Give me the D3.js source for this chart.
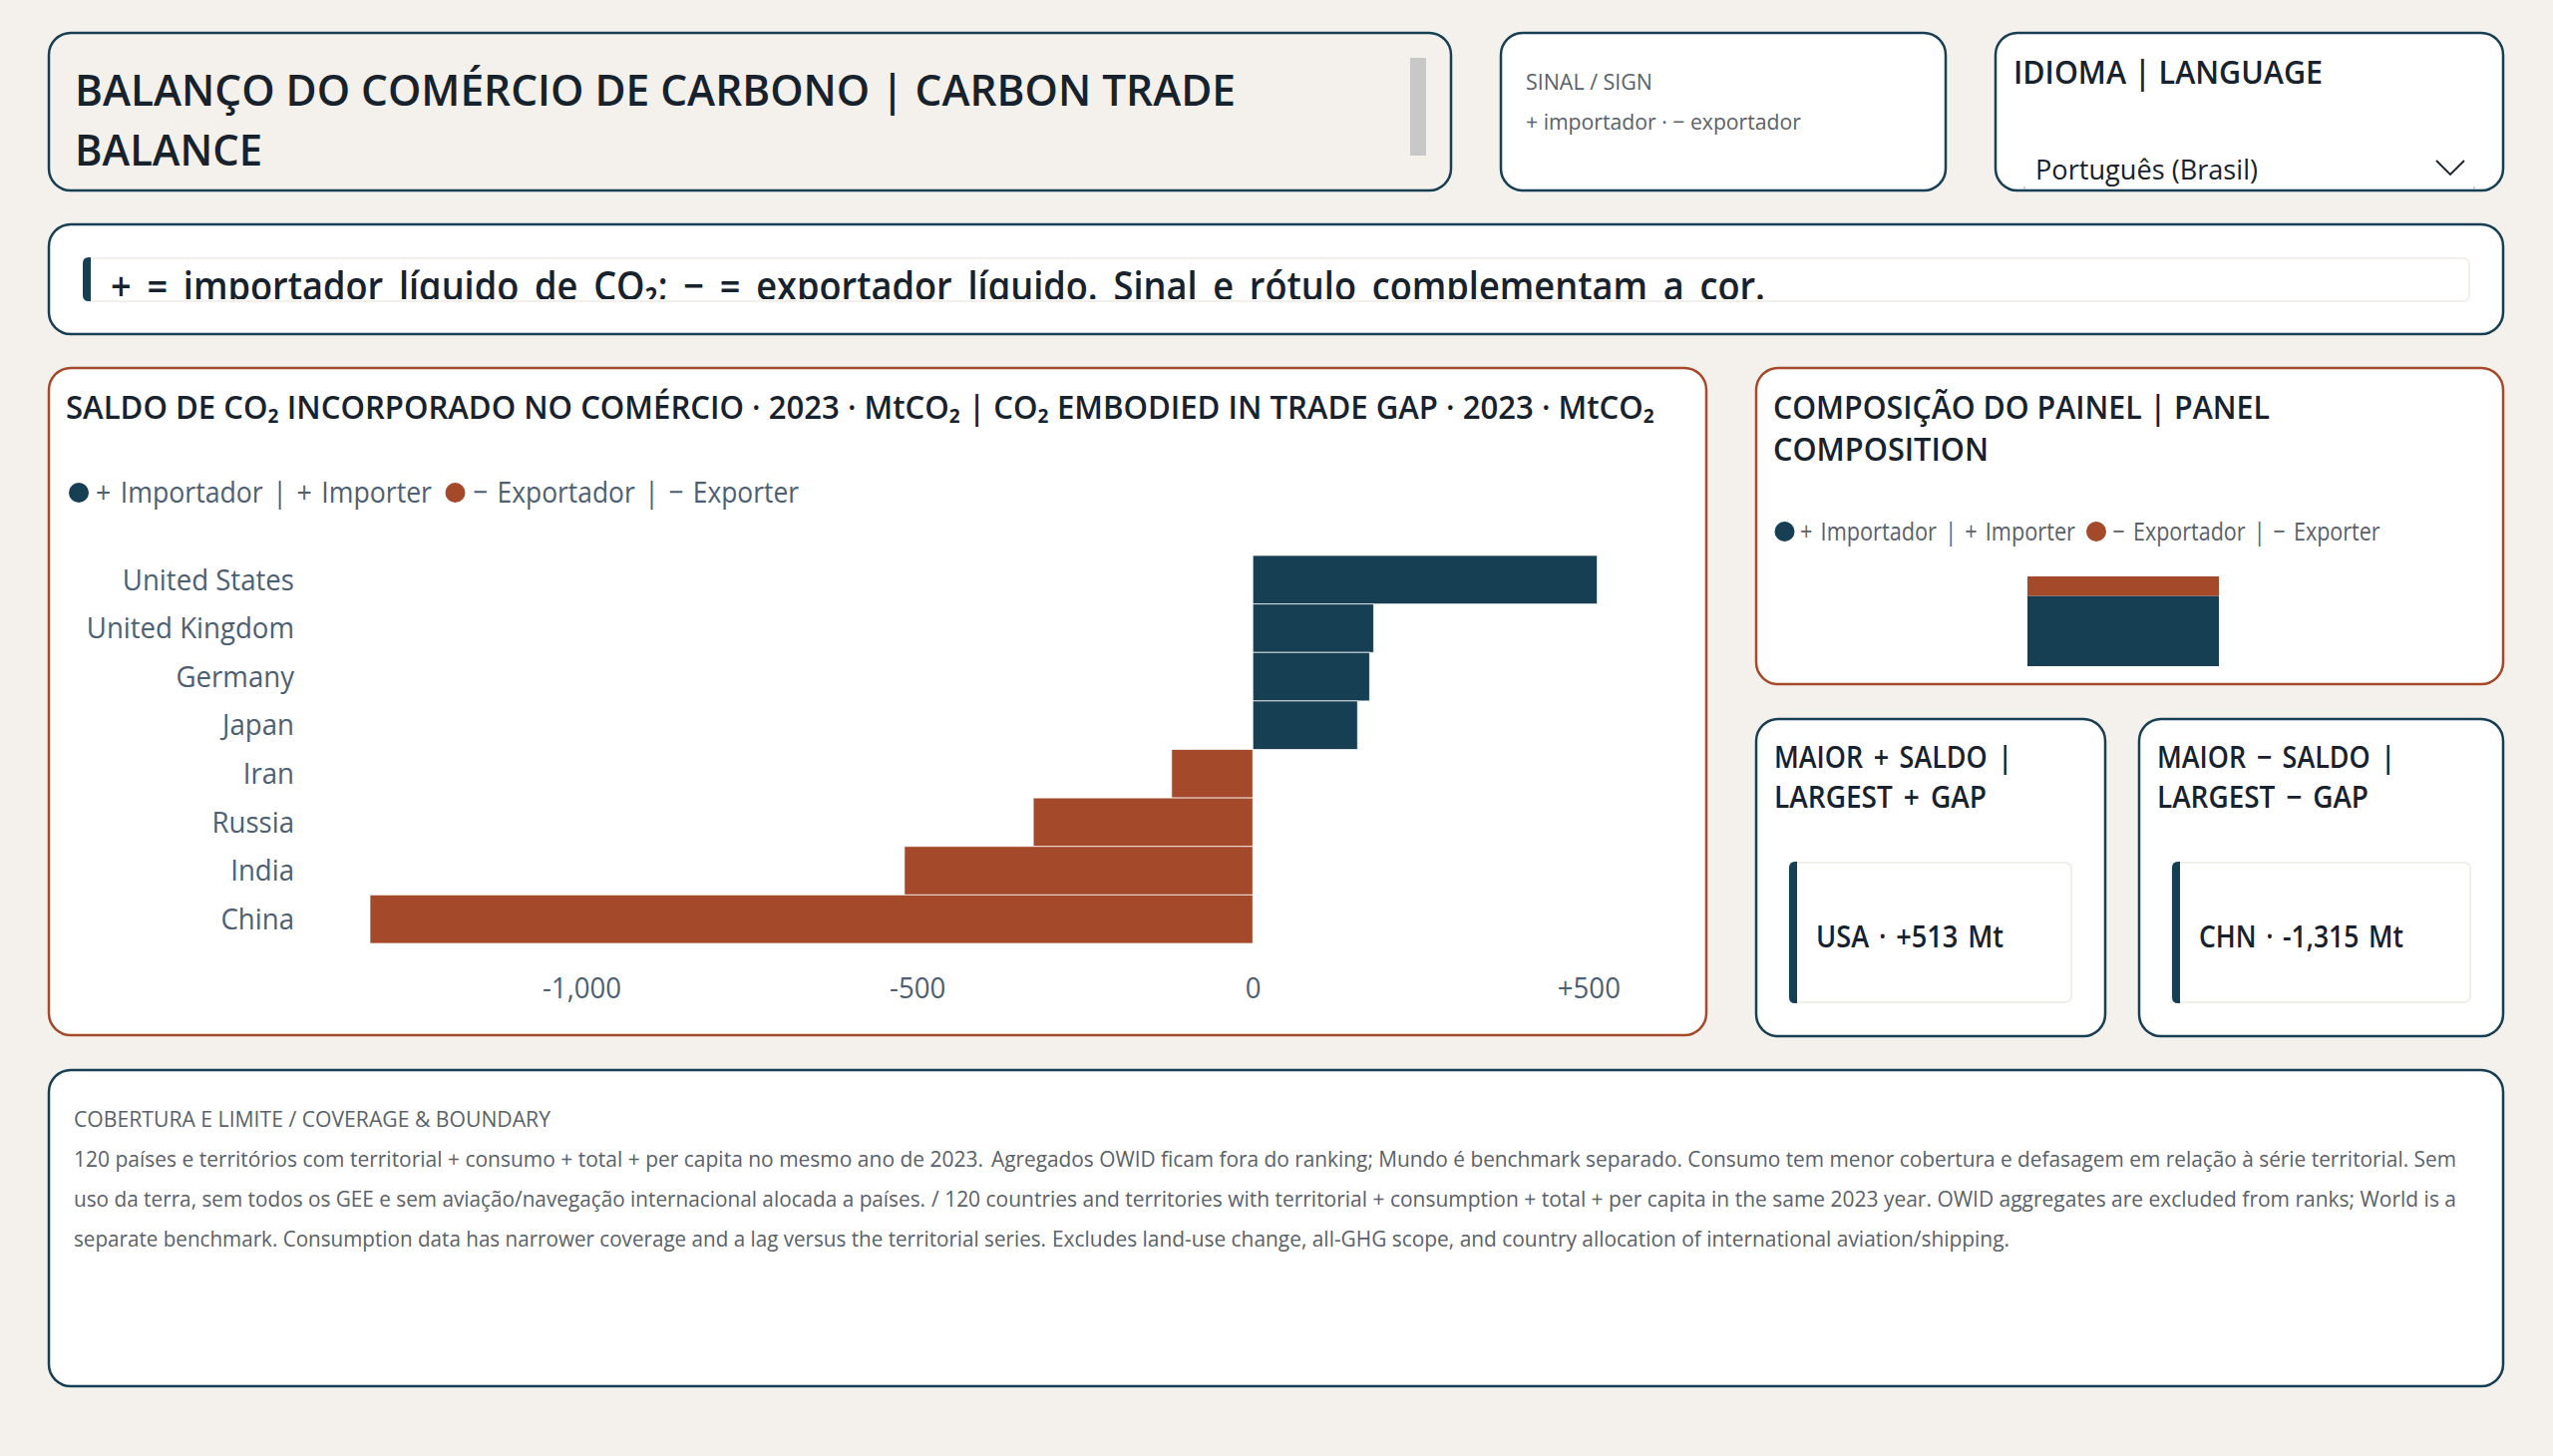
<!DOCTYPE html>
<html>
<head>
<meta charset="utf-8">
<script src="https://cdn.jsdelivr.net/npm/d3@7"></script>
<style>
html,body{margin:0;padding:0;background:#f4f1ec}
svg{display:block}
text{font-family:"Open Sans",sans-serif}
</style>
</head>
<body>
<svg id="chart" width="2560" height="1460"></svg>
<script>
const countries = ["United States","United Kingdom","Germany","Japan","Iran","Russia","India","China"]
const gaps = [513,180,174,156,-121,-327,-519,-1315]
const xTicks = [-1000,-500,0,500]
const stackGroups = ["importer","exporter"]
const stackCounts = [94,26]
const legendLabels = ["+ Importador | + Importer","− Exportador | − Exporter"]
const footerParts = [
	["120 países e territórios com territorial + consumo + total + per capita no mesmo ano de 2023.",
	 "Agregados OWID ficam fora do ranking; Mundo é benchmark separado. Consumo tem menor cobertura e defasagem em relação à série territorial. Sem"],
	["uso da terra, sem todos os GEE e sem aviação/navegação internacional alocada a países.",
	 "/ 120 countries and territories with territorial + consumption + total + per capita in the same 2023 year. OWID aggregates are excluded from ranks; World is a"],
	["separate benchmark. Consumption data has narrower coverage and a lag versus the territorial series.",
	 "Excludes land-use change, all-GHG scope, and country allocation of international aviation/shipping."]
]

const NAVY = "#173f54", RUST = "#a44a2a", INK = "#17222c", SLATE = "#4d6072", GREY = "#5a6168", BG = "#f4f1ec"
const svg = d3.select("#chart")

function panel(x0, y0, x1, y1, stroke, fill="#fff", r=22){
	return svg.append("rect")
		.attr("x", x0).attr("y", y0)
		.attr("width", x1-x0).attr("height", y1-y0)
		.attr("rx", r).attr("ry", r)
		.attr("fill", fill)
		.attr("stroke", stroke)
		.attr("stroke-width", 2.5)
}
// width is the width of the string in the reference, the substitute font runs wider
function label(str, x, y, size, color, width, weight=400){
	let t = svg.append("text")
		.attr("x", x).attr("y", y)
		.attr("font-size", size)
		.attr("font-weight", weight)
		.attr("fill", color)
		.text(str)
	if(width)
		t.attr("textLength", width).attr("lengthAdjust", "spacingAndGlyphs")
	return t
}
function squeeze(sel, k){
	sel.each(function(){
		d3.select(this)
			.attr("textLength", this.getComputedTextLength()*k)
			.attr("lengthAdjust", "spacingAndGlyphs")
	})
}
// accent stripe: round on the left, square on the right
function stripe(x, y, w, h, r=6){
	const p = d3.path()
	p.moveTo(x+w, y)
	p.lineTo(x+r, y)
	p.quadraticCurveTo(x, y, x, y+r)
	p.lineTo(x, y+h-r)
	p.quadraticCurveTo(x, y+h, x+r, y+h)
	p.lineTo(x+w, y+h)
	p.closePath()
	svg.append("path").attr("d", p.toString()).attr("fill", NAVY)
}
function legend(cx1, text1, w1, cx2, text2, w2, cy, base, size, color){
	const colors = [NAVY, RUST]
	;[cx1, cx2].forEach((cx, i)=>{
		svg.append("circle").attr("cx", cx).attr("cy", cy).attr("r", 10).attr("fill", colors[i])
	})
	label(legendLabels[0], text1, base, size, color, w1).attr("word-spacing", 3)
	label(legendLabels[1], text2, base, size, color, w2).attr("word-spacing", 3)
}

// header row
panel(49, 33, 1455, 191, NAVY, BG)
svg.append("rect").attr("x", 1414).attr("y", 58).attr("width", 16).attr("height", 98).attr("fill", "#c8c8c8")
label("BALANÇO DO COMÉRCIO DE CARBONO | CARBON TRADE", 75, 106, 44, INK, 1164, 600)
label("BALANCE", 75, 166, 44, INK, 188, 600)

panel(1505, 33, 1951, 191, NAVY)
label("SINAL / SIGN", 1530, 90, 22, GREY, 127)
label("+ importador · − exportador", 1530, 130, 22, GREY, 276)

panel(2001, 33, 2510, 191, NAVY)
label("IDIOMA | LANGUAGE", 2019, 84, 32, INK, 310, 600)
label("Português (Brasil)", 2041, 180, 28, INK, 223)
svg.append("path")
	.attr("d", d3.line()([[2443,161],[2457,175],[2471,161]]))
	.attr("fill", "none").attr("stroke", INK).attr("stroke-width", 1.8)
;[2030,2481].forEach(tx=>{
	svg.append("line").attr("x1", tx).attr("x2", tx).attr("y1", 187).attr("y2", 190)
		.attr("stroke", "#9aa5ad").attr("stroke-width", 1)
})

// banner
panel(49, 225, 2510, 335, NAVY)
svg.append("defs").append("clipPath").attr("id", "bannerClip")
	.append("rect").attr("x", 83).attr("y", 258).attr("width", 2393).attr("height", 42)
svg.append("rect").attr("x", 84).attr("y", 259).attr("width", 2392).attr("height", 43)
	.attr("rx", 6).attr("fill", "#fff").attr("stroke", "#f3f0eb").attr("stroke-width", 2)
stripe(83, 258, 8, 44)
label("+ = importador líquido de CO₂; − = exportador líquido. Sinal e rótulo complementam a cor.", 111, 301, 40, INK, 1659, 600)
	.attr("word-spacing", 7)
	.attr("clip-path", "url(#bannerClip)")

// main diverging bars
panel(49, 369, 1711, 1038, RUST)
label("SALDO DE CO₂ INCORPORADO NO COMÉRCIO · 2023 · MtCO₂ | CO₂ EMBODIED IN TRADE GAP · 2023 · MtCO₂", 66, 420, 32, INK, 1593, 600)
legend(79, 96, 337, 456.5, 474, 327, 494, 504, 30, SLATE)

const x = d3.scaleLinear().domain([d3.min(gaps), d3.max(gaps)]).range([371, 1601.6])
const y = d3.scaleBand().domain(countries).range([557, 946])

svg.append("g").selectAll("rect").data(countries).join("rect")
	.attr("x", (d,i)=>Math.min(x(gaps[i]), x(0)))
	.attr("y", d=>y(d))
	.attr("width", (d,i)=>Math.abs(x(gaps[i])-x(0)))
	.attr("height", y.bandwidth())
	.attr("fill", (d,i)=>gaps[i]>0 ? NAVY : RUST)
	.attr("stroke", "#fff").attr("stroke-opacity", .7).attr("stroke-width", 1)

const yAxis = svg.append("g").attr("transform", "translate(295,0.7)")
	.call(d3.axisLeft(y).tickSize(0).tickPadding(0))
const xAxis = svg.append("g").attr("transform", "translate(0,980)")
	.call(d3.axisBottom(x).tickValues(xTicks).tickSize(0).tickPadding(0)
		.tickFormat(d=>(d>0 ? "+" : "")+d3.format(",")(d).replace("−","-")))
;[yAxis, xAxis].forEach(a=>{
	a.select(".domain").remove()
	a.selectAll("text")
		.attr("font-size", 30).attr("fill", SLATE)
		.style("font-family", '"Open Sans",sans-serif')
		.call(squeeze, .92)
})

// composition stack
panel(1761, 369, 2510, 686, RUST)
label("COMPOSIÇÃO DO PAINEL | PANEL", 1778, 420, 32, INK, 498, 600)
label("COMPOSITION", 1778, 462, 32, INK, 216, 600)
legend(1789.5, 1805, 276, 2102, 2118.6, 268, 533, 542, 26, GREY)

const stacked = d3.stack().keys(stackGroups)([Object.fromEntries(stackGroups.map((k,i)=>[k,stackCounts[i]]))])
const yStack = d3.scaleLinear().domain([0, d3.sum(stackCounts)]).range([668, 578])
svg.append("g").selectAll("rect").data(stacked).join("rect")
	.attr("x", 2033).attr("width", 192)
	.attr("y", d=>yStack(d[0][1]))
	.attr("height", d=>yStack(d[0][0])-yStack(d[0][1]))
	.attr("fill", (d,i)=>i==0 ? NAVY : RUST)

// KPI cards
function card(x0, x1, inner0, inner1, lines, widths, kpi, kpiWidth){
	panel(x0, 721, x1, 1039, NAVY)
	label(lines[0], x0+18, 770, 30, INK, widths[0], 600).attr("word-spacing", 4)
	label(lines[1], x0+18, 810, 30, INK, widths[1], 600).attr("word-spacing", 4)
	svg.append("rect").attr("x", inner0).attr("y", 865).attr("width", inner1-inner0).attr("height", 140)
		.attr("rx", 6).attr("fill", "#fff").attr("stroke", "#f1efea").attr("stroke-width", 2)
	stripe(inner0, 864, 8, 142)
	label(kpi, inner0+27, 950, 30, INK, kpiWidth, 600).attr("word-spacing", 3)
}
card(1761, 2111, 1794, 2077, ["MAIOR + SALDO |","LARGEST + GAP"], [239,213], "USA · +513 Mt", 188)
card(2145, 2510, 2178, 2477, ["MAIOR − SALDO |","LARGEST − GAP"], [239,212], "CHN · -1,315 Mt", 205)

// footer
panel(49, 1073, 2510, 1390, NAVY)
label("COBERTURA E LIMITE / COVERAGE & BOUNDARY", 74, 1130, 22, GREY, 478)
const footerX = [994, 934, 1055]
const footerW = [[912,1469],[854,1529],[975,960]]
footerParts.forEach((parts,i)=>{
	label(parts[0], 74, 1170+40*i, 22, GREY, footerW[i][0])
	label(parts[1], footerX[i], 1170+40*i, 22, GREY, footerW[i][1])
})
</script>
</body>
</html>
